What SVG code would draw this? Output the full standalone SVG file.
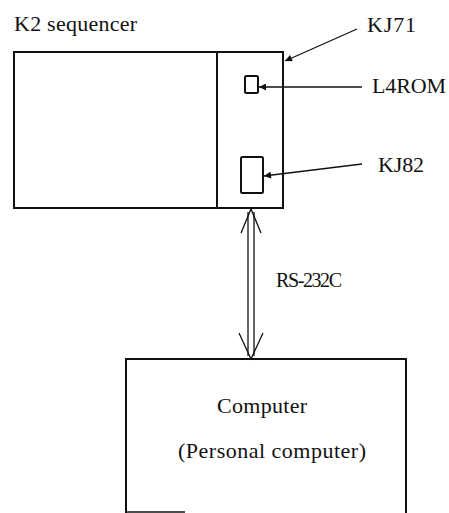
<svg xmlns="http://www.w3.org/2000/svg" width="449" height="513" viewBox="0 0 449 513">
<defs>
<marker id="ah" viewBox="0 0 10 10" refX="10" refY="5" markerWidth="10" markerHeight="7" markerUnits="userSpaceOnUse" orient="auto">
<path d="M0,0 L10,5 L0,10 z" fill="#111"/>
</marker>
<style>
text{font-family:'Liberation Serif','Times New Roman','DejaVu Serif',serif;font-size:22px;fill:#111}
.box{fill:none;stroke:#111;stroke-width:2}
.chip{fill:none;stroke:#111;stroke-width:2}
.lead{fill:none;stroke:#111;stroke-width:1.3}
.bus{fill:none;stroke:#111;stroke-width:1.3}
</style>
</defs>
<rect width="449" height="513" fill="#fff"/>
<g id="k2-sequencer">
<rect class="box" x="14" y="52" width="269" height="156"/>
<line class="box" x1="217" y1="52" x2="217" y2="208"/>
<text x="14" y="31" textLength="123" lengthAdjust="spacing">K2 sequencer</text>
</g>
<g id="kj71">
<text x="367" y="32" textLength="49" lengthAdjust="spacing">KJ71</text>
</g>
<g id="l4rom">
<rect class="chip" x="245" y="76" width="13" height="17" rx="1.5"/>
<text x="372" y="93" textLength="74" lengthAdjust="spacing">L4ROM</text>
</g>
<g id="kj82">
<rect class="chip" x="241" y="157" width="22" height="36" rx="1.5"/>
<text x="378" y="172" textLength="46" lengthAdjust="spacing">KJ82</text>
</g>
<g id="computer">
<polyline class="box" points="126,513 126,359 406,359 406,513"/>
<line x1="126" y1="512" x2="185" y2="512" stroke="#111" stroke-width="1.5"/>
<text x="217" y="413" textLength="90" lengthAdjust="spacing">Computer</text>
<text x="178" y="458" textLength="188" lengthAdjust="spacing">(Personal computer)</text>
</g>
<g id="connectors">
<line class="lead" x1="357" y1="29" x2="285" y2="61" marker-end="url(#ah)"/>
<line class="lead" x1="362" y1="87" x2="259" y2="87" marker-end="url(#ah)"/>
<line class="lead" x1="362" y1="164" x2="264" y2="176" marker-end="url(#ah)"/>
<line class="bus" x1="248" y1="212" x2="248" y2="356"/>
<line class="bus" x1="254" y1="212" x2="254" y2="356"/>
<polyline class="bus" points="241,233 251,209 261,233"/>
<polyline class="bus" points="239,333 251,359 263,333"/>
<text x="276" y="287" textLength="66" lengthAdjust="spacing" style="font-size:20px">RS-232C</text>
</g>
</svg>
